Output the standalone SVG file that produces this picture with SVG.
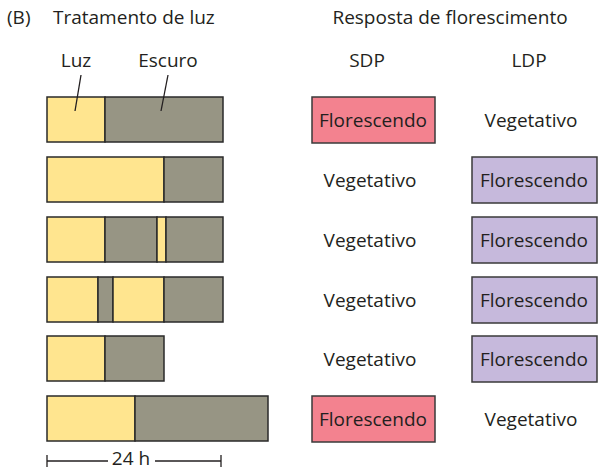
<svg xmlns="http://www.w3.org/2000/svg" width="598" height="471" viewBox="0 0 598 471">
<style>
text{font-family:"Open Sans","Noto Sans",sans-serif;font-size:19px;fill:#231f20}
.m{text-anchor:middle}
.l{fill:#ffe58f;stroke:#2a2a2a;stroke-width:1.5}
.d{fill:#979584;stroke:#2a2a2a;stroke-width:1.5}
.p{fill:#f3828f;stroke:#3a3a3a;stroke-width:1.5}
.v{fill:#c6b9dc;stroke:#3a3a3a;stroke-width:1.5}
.ln{stroke:#231f20;stroke-width:1.3;fill:none}
</style>
<rect width="598" height="471" fill="#fff"/>
<g id="headers">
<text x="7" y="24">(B)</text>
<text x="53" y="24">Tratamento de luz</text>
<text x="450" y="24" class="m">Resposta de florescimento</text>
<text x="367" y="67" class="m">SDP</text>
<text x="529" y="67" class="m">LDP</text>
<text x="76" y="67" class="m">Luz</text>
<text x="168" y="67" class="m">Escuro</text>
</g>
<g id="bar1"><rect class="l" x="47" y="97" width="58" height="45"/><rect class="d" x="105" y="97" width="118" height="45"/></g>
<g id="bar2"><rect class="l" x="47" y="157" width="117" height="45"/><rect class="d" x="164" y="157" width="59" height="45"/></g>
<g id="bar3"><rect class="l" x="47" y="217" width="58" height="45"/><rect class="d" x="105" y="217" width="52" height="45"/><rect class="l" x="157" y="217" width="9" height="45"/><rect class="d" x="166" y="217" width="57" height="45"/></g>
<g id="bar4"><rect class="l" x="47" y="277" width="51" height="45"/><rect class="d" x="98" y="277" width="15" height="45"/><rect class="l" x="113" y="277" width="51" height="45"/><rect class="d" x="164" y="277" width="59" height="45"/></g>
<g id="bar5"><rect class="l" x="47" y="336" width="58" height="45"/><rect class="d" x="105" y="336" width="59" height="45"/></g>
<g id="bar6"><rect class="l" x="47" y="396" width="88" height="45"/><rect class="d" x="135" y="396" width="133" height="45"/></g>
<g id="sdp">
<rect class="p" x="312" y="97" width="123" height="46"/><text x="373" y="127" class="m">Florescendo</text>
<text x="370" y="187" class="m">Vegetativo</text>
<text x="370" y="247" class="m">Vegetativo</text>
<text x="370" y="307" class="m">Vegetativo</text>
<text x="370" y="366" class="m">Vegetativo</text>
<rect class="p" x="312" y="396" width="123" height="46"/><text x="373" y="426" class="m">Florescendo</text>
</g>
<g id="ldp">
<text x="531" y="127" class="m">Vegetativo</text>
<rect class="v" x="472" y="157" width="125" height="46"/><text x="534" y="187" class="m">Florescendo</text>
<rect class="v" x="472" y="217" width="125" height="46"/><text x="534" y="247" class="m">Florescendo</text>
<rect class="v" x="472" y="277" width="125" height="46"/><text x="534" y="307" class="m">Florescendo</text>
<rect class="v" x="472" y="336" width="125" height="46"/><text x="534" y="366" class="m">Florescendo</text>
<text x="531" y="426" class="m">Vegetativo</text>
</g>
<g id="connectors">
<line class="ln" x1="81" y1="75" x2="75" y2="111"/>
<line class="ln" x1="168" y1="75" x2="161" y2="111"/>
<line class="ln" x1="47" y1="461" x2="108" y2="461"/>
<line class="ln" x1="155" y1="461" x2="221" y2="461"/>
<line class="ln" x1="47" y1="455" x2="47" y2="467"/>
<line class="ln" x1="221" y1="455" x2="221" y2="467"/>
</g>
<g id="scale"><text x="131" y="465" class="m">24 h</text></g>
</svg>
